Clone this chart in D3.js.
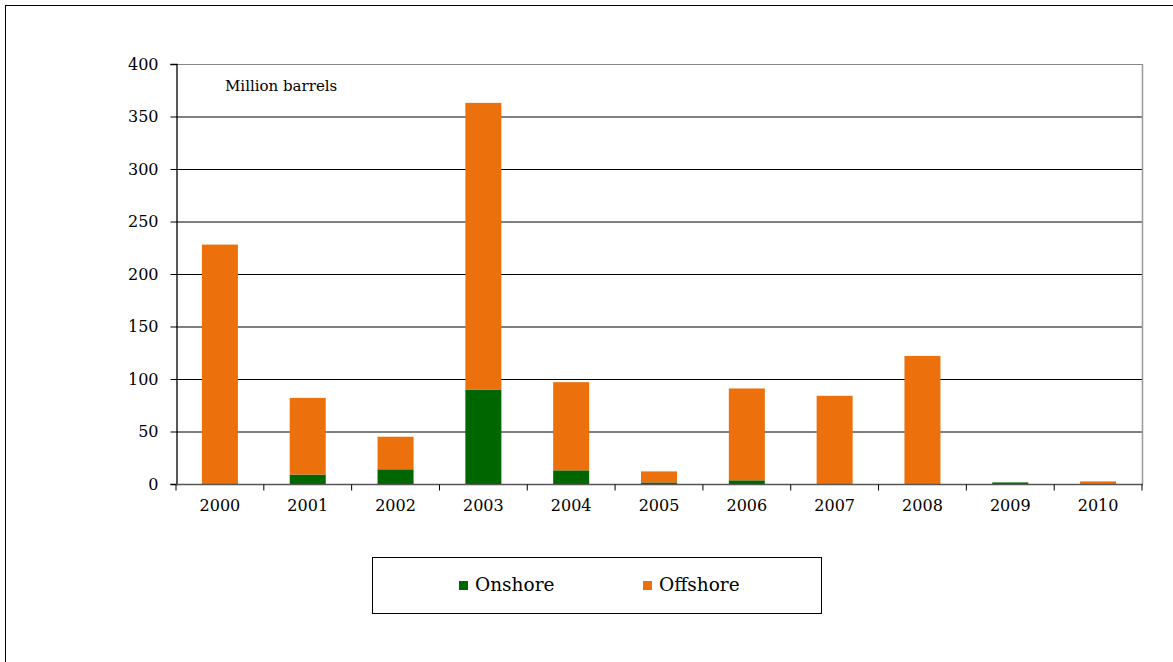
<!DOCTYPE html>
<html><head><meta charset="utf-8">
<script src="https://cdn.jsdelivr.net/npm/d3@7"></script>
<style>body{margin:0;background:#fff}svg{display:block}</style>
</head><body>
<script>
const years = ["2000","2001","2002","2003","2004","2005","2006","2007","2008","2009","2010"];
const onshore = [0, 9, 14, 90, 13, 1.5, 3.5, 0, 0, 1.5, 0];
const offshore = [228, 73, 31, 273, 84, 10.5, 87.5, 84, 122, 0, 2.5];
const yTicks = [0, 50, 100, 150, 200, 250, 300, 350, 400];
const seriesNames = ["Onshore", "Offshore"];
const seriesColors = ["#006600", "#EC700C"];

const W = 1173, H = 662;
const svg = d3.select("body").append("svg").attr("width", W).attr("height", H);
const font = "'DejaVu Serif', 'Liberation Serif', serif";

svg.append("rect").attr("x", 5.5).attr("y", 5.5).attr("width", 1300).attr("height", 1000)
  .attr("fill", "none").attr("stroke", "#000").attr("stroke-width", 1);

const L = 176, R = 1142, T = 64, B = 484;
const x = d3.scaleBand().domain(years).range([L, R]).paddingInner(0.59).paddingOuter(0.295);
const y = d3.scaleLinear().domain([0, 400]).range([B, T]);

// gridlines
svg.append("g").selectAll("line").data(yTicks.filter(d => d > 0)).join("line")
  .attr("x1", L).attr("x2", R).attr("y1", d => y(d) + 0.5).attr("y2", d => y(d) + 0.5)
  .attr("stroke", d => d === 400 ? "#888" : "#000").attr("stroke-width", 1);
// right border of plot
svg.append("line").attr("x1", R + 0.5).attr("x2", R + 0.5).attr("y1", T).attr("y2", B)
  .attr("stroke", "#999").attr("stroke-width", 1.5);

// stacked bars
const data = years.map((yr, i) => ({year: yr, Onshore: onshore[i], Offshore: offshore[i]}));
const stack = d3.stack().keys(seriesNames)(data);
svg.append("g").selectAll("g").data(stack).join("g")
  .attr("fill", (d, i) => seriesColors[i])
  .selectAll("rect").data(d => d).join("rect")
  .attr("x", d => x(d.data.year))
  .attr("width", x.bandwidth())
  .attr("y", d => y(d[1]))
  .attr("height", d => Math.max(0, y(d[0]) - y(d[1])));

// y axis
const yAxis = svg.append("g").attr("transform", `translate(${L + 0.5},0)`)
  .call(d3.axisLeft(y).tickValues(yTicks).tickSize(6).tickPadding(12));
yAxis.attr("font-family", null);
yAxis.select(".domain").attr("stroke", "#000").attr("stroke-width", 1.3);
yAxis.selectAll(".tick line").attr("stroke", "#000");
yAxis.selectAll("text").style("font-family", font).style("font-size", "16px").attr("fill", "#000");

// x axis
const xAxis = svg.append("g").attr("transform", `translate(0,${B + 0.5})`);
xAxis.append("line").attr("x1", L).attr("x2", R + 1).attr("stroke", "#555").attr("stroke-width", 1.3);
const boundaries = d3.range(years.length + 1).map(i => L + i * (R - L) / years.length);
xAxis.selectAll("line.tk").data(boundaries).join("line").attr("class", "tk")
  .attr("x1", d => d).attr("x2", d => d).attr("y1", 0).attr("y2", 6).attr("stroke", "#000");
xAxis.selectAll("text").data(years).join("text")
  .attr("x", d => x(d) + x.bandwidth() / 2).attr("y", 26)
  .attr("text-anchor", "middle").style("font-family", font).style("font-size", "16px").attr("fill", "#000")
  .text(d => d);

// unit label
svg.append("text").attr("x", 225).attr("y", 91).style("font-family", font).style("font-size", "15px")
  .attr("fill", "#000").text("Million barrels");

// legend
svg.append("rect").attr("x", 372.5).attr("y", 557.5).attr("width", 449).attr("height", 56)
  .attr("fill", "#fff").attr("stroke", "#000").attr("stroke-width", 1);
const legX = [459, 643];
const lg = svg.append("g").selectAll("g").data(seriesNames).join("g")
  .attr("transform", (d, i) => `translate(${legX[i]},581)`);
lg.append("rect").attr("width", 9).attr("height", 9).attr("fill", (d, i) => seriesColors[i]);
lg.append("text").attr("x", 16).attr("y", 10).style("font-family", font).style("font-size", "18.5px")
  .attr("fill", "#000").text(d => d);
</script>
</body></html>
